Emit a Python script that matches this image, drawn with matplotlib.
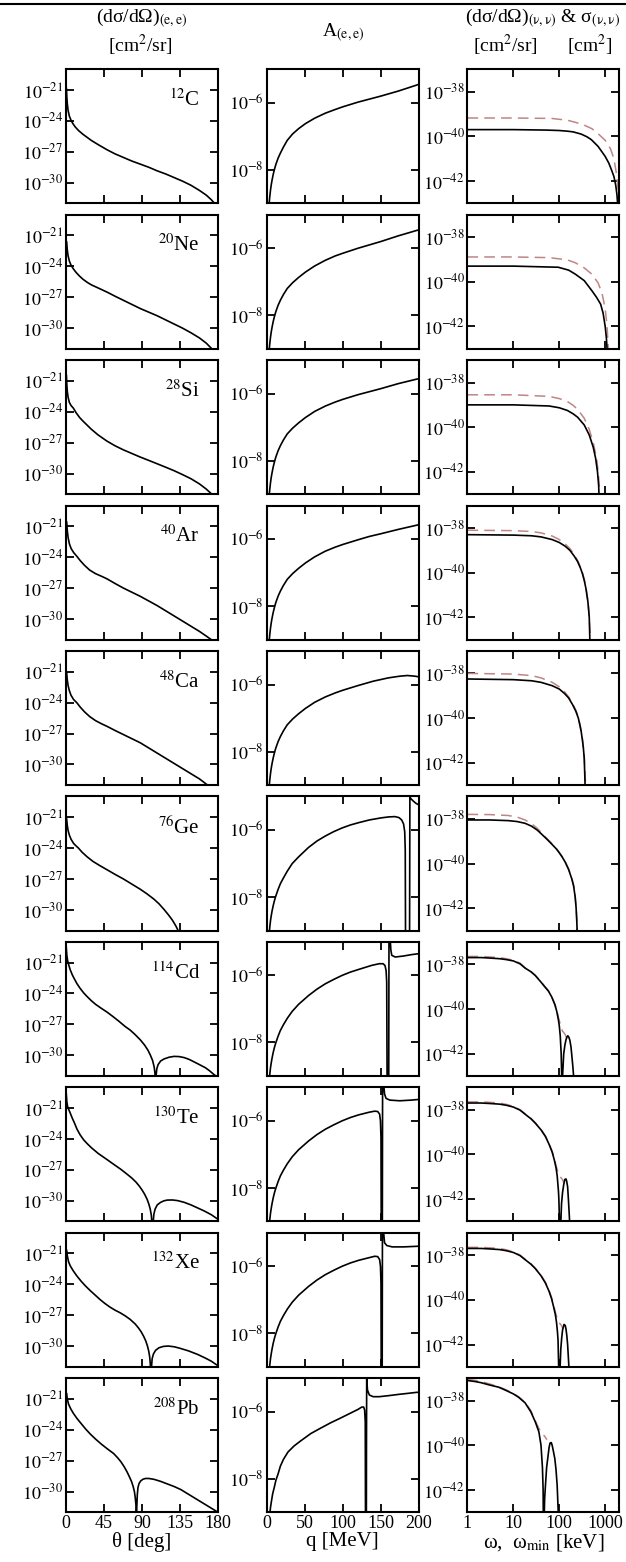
import matplotlib
matplotlib.use('Agg')
import matplotlib.pyplot as plt
from matplotlib.lines import Line2D
import numpy as np

plt.rcParams['font.family'] = ['Liberation Serif', 'DejaVu Serif']
plt.rcParams['mathtext.fontset'] = 'stix'

nuclei = [('12', 'C'), ('20', 'Ne'), ('28', 'Si'), ('40', 'Ar'), ('48', 'Ca'),
          ('76', 'Ge'), ('114', 'Cd'), ('130', 'Te'), ('132', 'Xe'), ('208', 'Pb')]

# ---- (e,e) cross sections: theta [deg], log10 dsigma/dOmega [cm^2/sr]
ee_theta_C = [0.5, 1, 1.5, 2.5, 4, 6, 8, 11, 15, 20, 25, 30, 38, 48.5, 58, 68, 78, 88, 98, 108, 118, 128, 138,
              148, 158, 166, 172, 178]
ee_C = [-20.85, -21.7, -22.3, -23.0, -23.55, -23.95, -24.25, -24.6, -24.95, -25.3, -25.6, -25.9, -26.3, -26.8,
        -27.2, -27.55, -27.9, -28.2, -28.5, -28.85, -29.15, -29.5, -29.85, -30.25, -30.75, -31.2, -31.65, -32.2]
ee_theta_Ne = [0.8, 1.5, 2.5, 4, 6, 8.7, 12, 16, 20, 25, 30, 38, 48.5, 58, 68, 78, 88, 98, 108, 118, 128, 138,
               148, 158, 166, 172, 178]
ee_Ne = [-21.65, -22.4, -23.0, -23.5, -23.9, -24.25, -24.6, -24.95, -25.25, -25.55, -25.8, -26.1, -26.5, -26.9,
         -27.3, -27.7, -28.1, -28.45, -28.8, -29.2, -29.6, -30.0, -30.45, -30.95, -31.45, -31.95, -32.5]
ee_theta_Si = [0.5, 1, 1.5, 2.5, 4, 6, 8.7, 12, 16, 20, 25, 30, 38, 48.5, 58, 68, 78, 88, 98, 108, 118, 128, 138,
               148, 158, 166, 172, 178]
ee_Si = [-20.5, -21.4, -22.0, -22.6, -23.1, -23.4, -23.65, -24.1, -24.55, -24.9, -25.3, -25.7, -26.25, -26.85,
         -27.3, -27.7, -28.05, -28.4, -28.72, -29.05, -29.38, -29.72, -30.1, -30.5, -31.0, -31.5, -31.95, -32.5]
ee_theta_Ar = [0.8, 1.5, 2.5, 4, 6, 9, 12.7, 17, 22, 28, 35, 42, 48.5, 58, 68, 78, 88, 98, 108, 118, 128, 138,
               148, 158, 166, 172, 178]
ee_Ar = [-20.6, -21.4, -22.1, -22.7, -23.15, -23.55, -23.9, -24.35, -24.8, -25.25, -25.6, -25.85, -26.1, -26.55,
         -27.0, -27.4, -27.8, -28.25, -28.7, -29.2, -29.7, -30.2, -30.7, -31.2, -31.65, -32.0, -32.4]
ee_theta_Ca = [0.8, 1.5, 2.5, 4, 6, 9, 12.7, 17, 22, 28, 35, 42, 48.5, 58, 68, 78, 88, 98, 108, 118, 128, 138,
               148, 158, 166, 174]
ee_Ca = [-21.1, -21.8, -22.35, -22.85, -23.3, -23.7, -24.0, -24.45, -24.9, -25.35, -25.75, -26.05, -26.3, -26.7,
         -27.1, -27.5, -27.9, -28.4, -28.9, -29.4, -29.9, -30.4, -30.9, -31.4, -31.9, -32.4]
ee_theta_Ge = [0.8, 1.5, 2.5, 4, 6, 9, 12, 14.7, 19, 25, 32, 40, 48.5, 58, 68, 78, 88, 96, 104, 110, 116, 121,
               126, 130, 134, 137]
ee_Ge = [-21.2, -21.8, -22.3, -22.75, -23.15, -23.55, -23.8, -24.0, -24.4, -24.85, -25.3, -25.7, -26.1, -26.55,
         -27.0, -27.5, -28.0, -28.45, -28.95, -29.4, -29.95, -30.45, -31.0, -31.55, -32.2, -32.8]
ee_theta_Cd = [0.3, 1, 2, 3.5, 5, 7.5, 10, 13, 16.7, 21, 25, 30, 35, 42, 48.5, 55, 62, 70, 76, 82, 88, 93, 97,
               100, 102.5, 104.3, 105.3, 106, 106.6, 107.5, 109, 112, 116, 122, 128, 134, 140, 146, 152, 158,
               165, 170, 175, 180]
ee_Cd = [-19.5, -20.3, -20.85, -21.3, -21.7, -22.2, -22.6, -23.05, -23.5, -23.95, -24.3, -24.7, -25.05, -25.45,
         -25.8, -26.2, -26.65, -27.2, -27.55, -28.0, -28.5, -29.0, -29.5, -30.0, -30.5, -31.1, -31.7, -34.0,
         -32.0, -31.3, -30.9, -30.55, -30.35, -30.18, -30.1, -30.12, -30.22, -30.4, -30.65, -30.9, -31.2, -31.5,
         -31.85, -32.15]
ee_theta_Te = [0.3, 1, 2, 3.5, 4.8, 7.5, 10, 13, 16.7, 21, 25, 30, 38, 48.5, 58, 65, 72, 78, 83, 87, 90, 93, 96,
               98, 99.7, 101, 101.8, 102.3, 103, 104, 105.5, 108, 112, 116, 120, 126, 132, 140, 148, 156, 164,
               172, 180]
ee_Te = [-19.6, -20.4, -20.9, -21.2, -21.45, -22.0, -22.45, -23.05, -23.6, -24.1, -24.45, -24.85, -25.4, -26.0,
         -26.55, -26.95, -27.4, -27.8, -28.2, -28.6, -28.95, -29.35, -29.85, -30.3, -30.8, -31.4, -32.2, -34.0,
         -32.3, -31.3, -30.8, -30.4, -30.15, -30.0, -29.93, -29.92, -29.98, -30.15, -30.4, -30.7, -31.0,
         -31.35, -31.8]
ee_theta_Xe = [0.8, 1.5, 3, 5, 8.7, 13, 18, 23, 28.6, 34, 40, 46, 52, 58, 64, 70, 76, 82, 86, 89, 92, 94.5,
               96.5, 98, 99, 99.8, 100.3, 101, 102, 103.5, 106, 110, 115, 121, 128, 135, 145, 156, 165, 172, 180]
ee_Xe = [-20.7, -21.2, -21.8, -22.2, -22.7, -23.2, -23.7, -24.15, -24.6, -25.0, -25.45, -25.85, -26.2, -26.5,
         -26.75, -27.05, -27.4, -27.85, -28.25, -28.6, -29.05, -29.5, -30.0, -30.5, -31.0, -31.7, -34.0, -32.2,
         -31.2, -30.75, -30.4, -30.15, -30.02, -29.98, -30.05, -30.2, -30.45, -30.8, -31.15, -31.45, -31.9]
ee_theta_Pb = [0.8, 1.5, 3, 5.5, 8.7, 13, 18, 23, 28.6, 35, 42, 49, 56.4, 61, 65, 69, 72.4, 75, 77.5, 79.5, 81,
               82, 82.8, 83.3, 83.8, 84.4, 85.2, 86.5, 88.5, 91, 94, 98, 104, 112, 120, 128, 136, 144, 152, 160,
               168, 174, 180]
ee_Pb = [-20.5, -21.0, -21.5, -21.95, -22.4, -22.9, -23.4, -23.9, -24.4, -24.9, -25.4, -25.85, -26.3, -26.7,
         -27.1, -27.6, -28.1, -28.55, -29.0, -29.5, -30.0, -30.6, -31.3, -34.0, -31.5, -30.3, -29.6, -29.2,
         -28.95, -28.8, -28.72, -28.72, -28.8, -29.0, -29.25, -29.5, -29.8, -30.2, -30.6, -31.0, -31.4, -31.7,
         -32.0]

# ---- parity-violating asymmetry: q [MeV], log10 A
pv_q_light = [2.5, 3, 4, 5, 6, 7, 8.5, 10, 12, 15, 18, 22, 27, 34, 42, 51, 63, 77, 90, 100, 120, 135, 150, 173, 200]
pv_C = [-9.25, -9.05, -8.8, -8.6, -8.44, -8.31, -8.14, -8.0, -7.84, -7.65, -7.5, -7.32, -7.12, -6.93, -6.77,
        -6.62, -6.46, -6.31, -6.2, -6.12, -5.98, -5.89, -5.8, -5.65, -5.45]
pv_Ne = [-9.3, -9.1, -8.85, -8.65, -8.49, -8.36, -8.19, -8.05, -7.89, -7.7, -7.55, -7.38, -7.2, -7.03, -6.87,
         -6.71, -6.53, -6.36, -6.23, -6.15, -6.0, -5.9, -5.8, -5.63, -5.45]
pv_Si = [-9.3, -9.1, -8.85, -8.65, -8.49, -8.36, -8.19, -8.05, -7.89, -7.7, -7.55, -7.38, -7.2, -7.03, -6.87,
         -6.71, -6.53, -6.37, -6.25, -6.17, -6.03, -5.94, -5.85, -5.7, -5.55]
pv_Ar = [-9.3, -9.1, -8.85, -8.65, -8.49, -8.36, -8.19, -8.05, -7.89, -7.7, -7.55, -7.38, -7.2, -7.03, -6.87,
         -6.71, -6.53, -6.36, -6.24, -6.16, -6.02, -5.92, -5.84, -5.71, -5.57]
pv_q_Ca = [2.5, 3, 4, 5, 6, 7, 8.5, 10, 12, 15, 18, 22, 27, 34, 42, 51, 63, 77, 90, 100, 120, 140, 160, 175, 185,
           195, 200]
pv_Ca = [-9.3, -9.1, -8.85, -8.65, -8.49, -8.36, -8.19, -8.05, -7.89, -7.7, -7.55, -7.38, -7.2, -7.03, -6.87,
         -6.71, -6.53, -6.37, -6.25, -6.17, -6.03, -5.9, -5.8, -5.75, -5.73, -5.75, -5.77]
pv_q_Ge = [2.5, 3, 4, 5, 6, 7, 8.5, 10, 11.8, 15, 18, 22, 27, 33.6, 42, 55, 66, 77, 88, 99, 110, 121, 135, 150,
           160, 168.6, 174, 177.5, 180, 181.5, 182.2, 182.7,
           187.8, 188.1, 188.3, 189, 192, 196, 200]
pv_Ge = [-9.3, -9.15, -8.9, -8.7, -8.55, -8.42, -8.26, -8.12, -7.98, -7.77, -7.6, -7.43, -7.23, -7.0, -6.8,
         -6.52, -6.33, -6.18, -6.05, -5.94, -5.85, -5.78, -5.7, -5.64, -5.61, -5.6, -5.63, -5.7, -5.82, -6.05,
         -6.6, -10.0,
         -10.0, -7.0, -4.95, -5.05, -5.12, -5.2, -5.25]
pv_q_Cd = [2.5, 3, 4, 5, 6, 7, 8.5, 10, 11.8, 15, 18, 22, 27, 33.6, 42, 55, 66, 77, 88, 99, 110, 121, 138, 148,
           153, 155.5, 157, 157.8, 158.5,
           160.4, 160.6, 160.8, 161.5, 162.5, 163.3, 164.5, 169, 180, 190, 200]
pv_Cd = [-9.35, -9.2, -8.95, -8.75, -8.6, -8.47, -8.3, -8.16, -8.02, -7.81, -7.64, -7.47, -7.28, -7.07, -6.86,
         -6.6, -6.41, -6.25, -6.12, -6.0, -5.9, -5.82, -5.7, -5.65, -5.65, -5.7, -5.85, -6.2, -10.0,
         -10.0, -7.5, -5.0, -4.7, -4.95, -5.25, -5.4, -5.45, -5.42, -5.38, -5.35]
pv_q_Te = [2.5, 3, 4, 5, 6, 7, 8.5, 10, 11.8, 15, 18, 22, 27, 33.6, 42, 55, 66, 77, 88, 99, 110, 121, 135, 142,
           146, 148.5, 149.6, 150.3, 150.7,
           152.0, 152.2, 152.4, 153, 154, 155, 157, 162, 175, 190, 200]
pv_Te = [-9.35, -9.2, -8.95, -8.75, -8.6, -8.47, -8.3, -8.16, -8.02, -7.81, -7.64, -7.47, -7.28, -7.07, -6.86,
         -6.6, -6.41, -6.25, -6.12, -6.0, -5.9, -5.82, -5.74, -5.71, -5.72, -5.8, -6.0, -6.5, -10.0,
         -10.0, -7.5, -5.0, -4.7, -4.95, -5.2, -5.33, -5.38, -5.4, -5.38, -5.36]
pv_q_Xe = [2.5, 3, 4, 5, 6, 7, 8.5, 10, 11.8, 15, 18, 22, 27, 33.6, 42, 55, 66, 77, 88, 99, 110, 121, 135, 142,
           146, 148.5, 149.6, 150.3, 150.7,
           151.8, 152.0, 152.2, 152.8, 153.8, 155, 158, 165, 180, 200]
pv_Xe = [-9.35, -9.2, -8.95, -8.75, -8.6, -8.47, -8.3, -8.16, -8.02, -7.81, -7.64, -7.47, -7.28, -7.07, -6.86,
         -6.6, -6.41, -6.25, -6.12, -6.0, -5.9, -5.82, -5.74, -5.7, -5.71, -5.8, -6.0, -6.5, -10.0,
         -10.0, -7.5, -5.0, -4.7, -5.0, -5.3, -5.38, -5.42, -5.42, -5.4]
pv_q_Pb = [2.5, 3, 4, 5, 6, 7.8, 10, 12, 15, 18, 22, 28, 36, 44, 58, 70, 84, 96, 112, 120, 125, 127.5, 128.8,
           129.6, 130.0,
           131.0, 131.2, 131.5, 132.5, 135, 140, 148, 160, 174, 186, 197.4, 200]
pv_Pb = [-9.45, -9.3, -9.05, -8.85, -8.7, -8.45, -8.25, -8.05, -7.85, -7.62, -7.42, -7.2, -7.02, -6.88, -6.65,
         -6.5, -6.33, -6.2, -6.02, -5.93, -5.86, -5.86, -5.95, -6.3, -10.0,
         -10.0, -7.0, -5.0, -5.35, -5.5, -5.55, -5.55, -5.52, -5.48, -5.45, -5.42, -5.42]

# ---- neutrino scattering: omega [keV], log10 dsigma/dOmega (solid) and log10 sigma (dashed)
nu_w_C = [1, 10, 50, 100, 150, 200, 300, 400, 500, 700, 1000, 1200, 1400, 1550, 1700, 1800, 1880, 1950]
nu_C = [-39.7, -39.7, -39.72, -39.74, -39.77, -39.8, -39.9, -40.02, -40.15, -40.45, -40.9, -41.2, -41.55, -41.8,
        -42.2, -42.6, -43.1, -44.0]
tot_w_C = [1, 10, 69, 150, 222, 350, 515, 700, 1000, 1300, 1550, 1800, 1950, 2050]
tot_C = [-39.18, -39.18, -39.2, -39.28, -39.37, -39.5, -39.66, -39.88, -40.18, -40.55, -41.0, -41.8, -42.6, -43.5]
nu_w_Ne = [1, 10, 95, 160, 224, 350, 513, 650, 795, 900, 1000, 1060, 1100, 1120]
nu_Ne = [-39.3, -39.3, -39.35, -39.48, -39.66, -39.95, -40.4, -40.7, -41.0, -41.4, -42.0, -42.5, -43.0, -44.0]
tot_w_Ne = [1, 10, 60, 150, 224, 350, 513, 700, 850, 1000, 1100, 1200]
tot_Ne = [-38.89, -38.89, -38.92, -39.02, -39.15, -39.38, -39.66, -40.05, -40.5, -41.2, -42.0, -43.5]
nu_w_Si = [1, 10, 60, 100, 150, 200, 250, 350, 450, 550, 620, 680, 720, 750]
nu_Si = [-39.0, -39.0, -39.05, -39.13, -39.25, -39.4, -39.55, -39.9, -40.35, -40.9, -41.4, -42.0, -42.6, -43.5]
tot_w_Si = [1, 10, 60, 100, 150, 200, 250, 350, 450, 550, 650, 720, 780]
tot_Si = [-38.55, -38.55, -38.62, -38.72, -38.85, -39.02, -39.2, -39.6, -40.1, -40.7, -41.4, -42.2, -43.5]
nu_w_Ar = [1, 10, 25, 40, 70, 100, 135, 170, 210, 250, 290, 320, 350, 380, 420, 450, 470]
nu_Ar = [-38.3, -38.32, -38.35, -38.4, -38.52, -38.65, -38.82, -39.0, -39.25, -39.5, -39.8, -40.05, -40.35,
         -40.7, -41.3, -42.0, -43.5]
tot_w_Ar = [1, 10, 25, 40, 70, 100, 135, 170, 210, 250, 290, 320, 350, 380, 430, 480]
tot_Ar = [-38.1, -38.12, -38.16, -38.22, -38.36, -38.52, -38.72, -38.92, -39.18, -39.45, -39.75, -40.0, -40.3,
          -40.65, -41.4, -43.0]
nu_w_Ca = [1, 10, 25, 40, 70, 100, 130, 160, 195, 230, 260, 280, 300, 320, 335, 350, 365]
nu_Ca = [-38.25, -38.28, -38.33, -38.4, -38.55, -38.7, -38.9, -39.1, -39.4, -39.7, -40.0, -40.3, -40.6, -41.0,
         -41.35, -41.8, -43.0]
tot_w_Ca = [1, 10, 25, 40, 70, 100, 130, 160, 195, 230, 260, 280, 300, 320, 335, 350, 375]
tot_Ca = [-38.0, -38.03, -38.1, -38.2, -38.4, -38.6, -38.82, -39.05, -39.35, -39.65, -39.95, -40.25, -40.55,
          -40.95, -41.3, -41.8, -43.0]
nu_w_Ge = [1, 3, 7.7, 12, 18, 25, 33, 41, 55, 70, 85, 96, 115, 134, 160, 188, 205, 222, 232, 240, 248]
nu_Ge = [-38.05, -38.05, -38.08, -38.12, -38.2, -38.33, -38.5, -38.68, -38.93, -39.15, -39.33, -39.47, -39.7,
         -39.93, -40.27, -40.7, -41.0, -41.5, -41.95, -42.5, -43.3]
tot_w_Ge = [1, 3, 7.7, 12, 18, 25, 33, 41, 55, 70, 85, 96, 115, 134, 160, 188, 205, 222, 235, 250]
tot_Ge = [-37.8, -37.81, -37.85, -37.92, -38.05, -38.22, -38.42, -38.62, -38.9, -39.12, -39.31, -39.45, -39.68,
          -39.91, -40.25, -40.67, -40.97, -41.45, -42.1, -43.5]
nu_w_Cd = [1, 2, 3, 5, 7, 10, 14, 18, 24, 30, 40, 48, 58, 68, 80, 88, 96, 100, 105, 110, 113, 115,
           118, 125, 133, 140, 147, 154, 162, 170, 180, 190, 198, 205, 210]
nu_Cd = [-37.7, -37.7, -37.72, -37.75, -37.79, -37.85, -37.98, -38.17, -38.33, -38.5, -38.8, -39.0, -39.2, -39.45,
         -39.8, -40.1, -40.5, -40.75, -41.2, -42.0, -43.0, -45.0,
         -43.0, -42.0, -41.6, -41.38, -41.25, -41.2, -41.27, -41.4, -41.7, -42.2, -42.6, -43.0, -45.0]
tot_w_Cd = [1, 2, 3, 5, 7, 10, 14, 18, 24, 30, 40, 48, 58, 68, 80, 88, 96, 103, 110, 118, 125, 135, 145, 150]
tot_Cd = [-37.65, -37.65, -37.67, -37.7, -37.75, -37.82, -37.95, -38.15, -38.32, -38.5, -38.78, -38.98, -39.18,
          -39.43, -39.78, -40.05, -40.38, -40.62, -40.85, -41.0, -41.05, -41.15, -41.3, -41.4]
nu_w_Te = [1, 2, 3, 5, 7, 10, 14, 18, 24, 30, 40, 50, 60, 70, 78, 85, 90, 93, 96, 98, 101, 103,
           106, 112, 118, 125, 132, 140, 145, 152, 158, 163, 168, 172]
nu_Te = [-37.7, -37.7, -37.72, -37.75, -37.8, -37.88, -38.02, -38.2, -38.4, -38.6, -38.9, -39.2, -39.55, -39.9,
         -40.25, -40.6, -40.95, -41.3, -41.65, -42.0, -43.0, -45.0,
         -43.5, -42.2, -41.7, -41.35, -41.12, -41.1, -41.2, -41.45, -42.0, -42.5, -43.0, -45.0]
tot_w_Te = [1, 2, 3, 5, 7, 10, 14, 18, 24, 30, 40, 50, 60, 70, 78, 85, 95, 105, 115, 125]
tot_Te = [-37.65, -37.65, -37.67, -37.7, -37.76, -37.85, -38.0, -38.18, -38.38, -38.58, -38.88, -39.18, -39.52,
          -39.85, -40.18, -40.5, -40.85, -41.0, -41.1, -41.25]
nu_w_Xe = [1, 2, 3, 5, 7, 10, 14, 18, 24, 30, 40, 50, 60, 68, 75, 82, 87, 91, 94, 97, 99,
           102, 108, 113, 118, 127, 135, 140, 146, 152, 157, 162, 166]
nu_Xe = [-37.7, -37.7, -37.72, -37.75, -37.8, -37.88, -38.02, -38.2, -38.4, -38.6, -38.92, -39.25, -39.62, -39.95,
         -40.3, -40.65, -41.0, -41.4, -41.8, -43.0, -45.0,
         -43.5, -42.2, -41.7, -41.35, -41.1, -41.15, -41.3, -41.6, -42.0, -42.5, -43.0, -45.0]
tot_w_Xe = [1, 2, 3, 5, 7, 10, 14, 18, 24, 30, 40, 50, 60, 68, 75, 82, 92, 102, 112, 120]
tot_Xe = [-37.65, -37.65, -37.67, -37.7, -37.76, -37.85, -38.0, -38.18, -38.38, -38.58, -38.9, -39.22, -39.58,
          -39.9, -40.22, -40.55, -40.9, -41.05, -41.15, -41.3]
nu_w_Pb = [1, 1.5, 2, 3, 4.8, 7, 10, 13, 18, 24, 30, 36, 40, 43, 44.5, 45.5,
           46, 48, 50, 53, 56, 60, 63, 67, 70, 75, 80, 85, 90, 95, 98]
nu_Pb = [-37.1, -37.15, -37.2, -37.3, -37.4, -37.55, -37.7, -37.85, -38.1, -38.5, -38.95, -39.4, -40.0, -41.0,
         -42.0, -45.0,
         -44.0, -42.4, -41.8, -41.0, -40.6, -40.1, -39.9, -39.88, -40.0, -40.3, -40.6, -41.1, -41.8, -43.0, -45.0]
tot_w_Pb = [1, 1.5, 2, 3, 4.8, 7, 10, 13, 18, 24, 30, 36, 42, 48, 54]
tot_Pb = [-37.05, -37.1, -37.15, -37.25, -37.38, -37.52, -37.68, -37.83, -38.08, -38.45, -38.9, -39.25, -39.45,
          -39.6, -39.75]

ee_theta = [ee_theta_C, ee_theta_Ne, ee_theta_Si, ee_theta_Ar, ee_theta_Ca,
            ee_theta_Ge, ee_theta_Cd, ee_theta_Te, ee_theta_Xe, ee_theta_Pb]
ee_vals = [ee_C, ee_Ne, ee_Si, ee_Ar, ee_Ca, ee_Ge, ee_Cd, ee_Te, ee_Xe, ee_Pb]
pv_q = [pv_q_light, pv_q_light, pv_q_light, pv_q_light, pv_q_Ca,
        pv_q_Ge, pv_q_Cd, pv_q_Te, pv_q_Xe, pv_q_Pb]
pv_vals = [pv_C, pv_Ne, pv_Si, pv_Ar, pv_Ca, pv_Ge, pv_Cd, pv_Te, pv_Xe, pv_Pb]
nu_w = [nu_w_C, nu_w_Ne, nu_w_Si, nu_w_Ar, nu_w_Ca, nu_w_Ge, nu_w_Cd, nu_w_Te, nu_w_Xe, nu_w_Pb]
nu_vals = [nu_C, nu_Ne, nu_Si, nu_Ar, nu_Ca, nu_Ge, nu_Cd, nu_Te, nu_Xe, nu_Pb]
tot_w = [tot_w_C, tot_w_Ne, tot_w_Si, tot_w_Ar, tot_w_Ca, tot_w_Ge, tot_w_Cd, tot_w_Te, tot_w_Xe, tot_w_Pb]
tot_vals = [tot_C, tot_Ne, tot_Si, tot_Ar, tot_Ca, tot_Ge, tot_Cd, tot_Te, tot_Xe, tot_Pb]

W, H = 626, 1562
fig, axes = plt.subplots(10, 3, figsize=(W / 100, H / 100), dpi=100)
fig.subplots_adjust(left=66 / W, right=619.5 / W, top=1 - 69.3 / H, bottom=1 - 1512.3 / H,
                    wspace=0.32, hspace=0.085)

LINE = dict(color='black', lw=1.2)
DASH = dict(color='#c08585', lw=1.1, dashes=(7, 4))
TICK = 13


def frame(ax):
    for s in ax.spines.values():
        s.set_linewidth(1.5)
    ax.tick_params(which='major', direction='in', length=6, width=1.3,
                   top=True, right=True, labelsize=TICK, pad=2)
    ax.minorticks_off()


for i in range(10):
    a1, a2, a3 = axes[i]

    # (e,e) differential cross section
    a1.plot(ee_theta[i], 10.0 ** np.array(ee_vals[i]), **LINE)
    a1.set_yscale('log')
    a1.set_xlim(0, 180)
    a1.set_ylim(1e-32, 1e-19)
    a1.set_xticks([0, 45, 90, 135, 180])
    a1.set_yticks([1e-21, 1e-24, 1e-27, 1e-30])
    a1.set_yticklabels([r'$10^{-21}$', r'$10^{-24}$', r'$10^{-27}$', r'$10^{-30}$'])
    mass, sym = nuclei[i]
    a1.text(0.88, 0.77, r'$^{%s}$%s' % (mass, sym), transform=a1.transAxes,
            ha='right', va='center', fontsize=15)

    # parity-violating asymmetry
    a2.plot(pv_q[i], 10.0 ** np.array(pv_vals[i]), **LINE)
    a2.set_yscale('log')
    a2.set_xlim(0, 200)
    a2.set_ylim(1e-9, 1e-5)
    a2.set_xticks([0, 50, 100, 150, 200])
    a2.set_yticks([1e-6, 1e-8])
    a2.set_yticklabels([r'$10^{-6}$', r'$10^{-8}$'])

    # neutrino scattering
    a3.plot(tot_w[i], 10.0 ** np.array(tot_vals[i]), **DASH)
    a3.plot(nu_w[i], 10.0 ** np.array(nu_vals[i]), **LINE)
    a3.set_xscale('log')
    a3.set_yscale('log')
    a3.set_xlim(1, 2050)
    a3.set_ylim(1e-43, 1e-37)
    a3.set_xticks([1, 10, 100, 1000])
    a3.set_yticks([1e-38, 1e-40, 1e-42])
    a3.set_yticklabels([r'$10^{-38}$', r'$10^{-40}$', r'$10^{-42}$'])

    for ax in (a1, a2, a3):
        frame(ax)
        if i < 9:
            ax.set_xticklabels([])

axes[9][2].set_xticklabels(['1', '10', '100', '1000'])
axes[9][0].set_xlabel('θ [deg]', fontsize=15, labelpad=0)
axes[9][1].set_xlabel('q [MeV]', fontsize=15, labelpad=0)
axes[9][2].set_xlabel(r'ω,  ω$_{\mathrm{min}}$ [keV]', fontsize=15, labelpad=0)

# column headings
fig.text(142 / W, 1 - 18 / H, r'(dσ/dΩ)$_{\mathrm{(e,e)}}$', ha='center', va='center', fontsize=14)
fig.text(140 / W, 1 - 45 / H, r'[cm$^2$/sr]', ha='center', va='center', fontsize=14)
fig.text(343 / W, 1 - 33 / H, r'A$_{\mathrm{(e,e)}}$', ha='center', va='center', fontsize=14)
fig.text(543 / W, 1 - 18 / H, r'(dσ/dΩ)$_{\mathrm{(ν,ν)}}$ & σ$_{\mathrm{(ν,ν)}}$',
         ha='center', va='center', fontsize=14)
fig.text(505 / W, 1 - 45 / H, r'[cm$^2$/sr]', ha='center', va='center', fontsize=14)
fig.text(590 / W, 1 - 45 / H, r'[cm$^2$]', ha='center', va='center', fontsize=14)

fig.add_artist(Line2D([0, 1], [1 - 3.5 / H] * 2, transform=fig.transFigure, color='black', lw=1.5))

fig.savefig('out.png', dpi=100)
